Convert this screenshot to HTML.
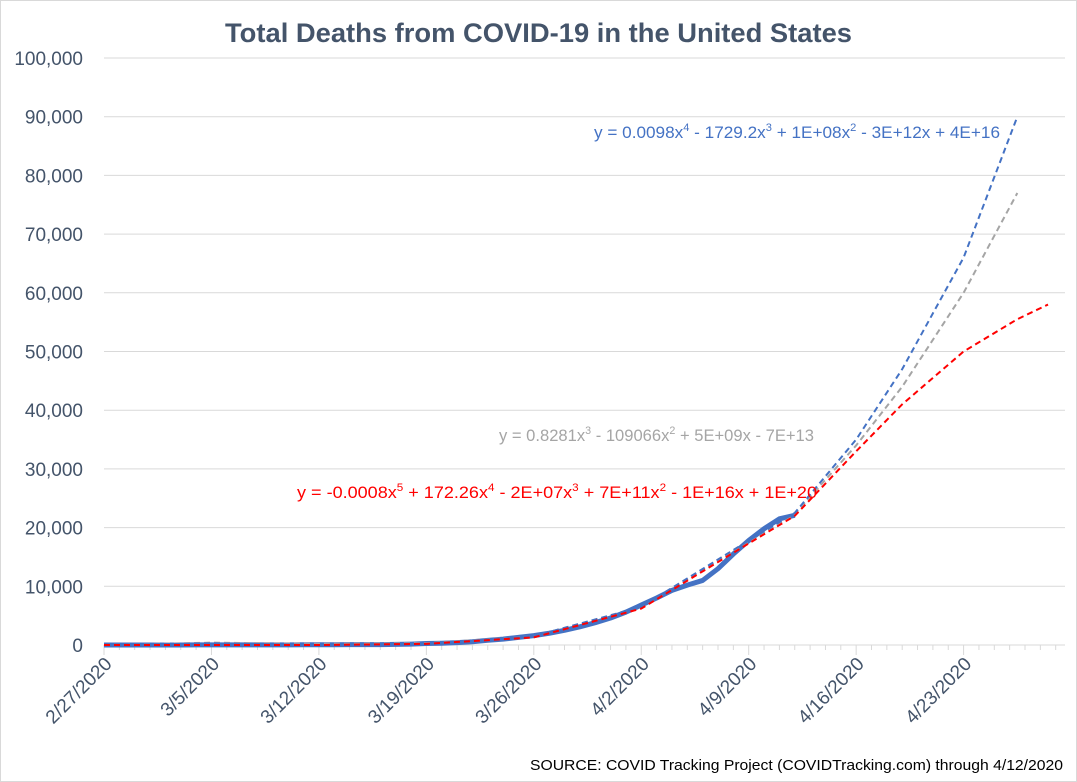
<!DOCTYPE html>
<html><head><meta charset="utf-8"><style>
body{margin:0;background:#fff;}
svg{display:block;font-family:"Liberation Sans",sans-serif;}
</style></head><body>
<svg id="c" width="1077" height="782">
<rect x="0.5" y="0.5" width="1076" height="781" fill="#fff" stroke="#d9d9d9"/>
<text x="225" y="42" font-size="27" font-weight="bold" fill="#44546a" textLength="627" lengthAdjust="spacingAndGlyphs">Total Deaths from COVID-19 in the United States</text>
<g id="grid"></g><g id="axes"></g><g id="series"></g>
<text x="594" y="138" font-size="17" fill="#4472c4" textLength="406" lengthAdjust="spacingAndGlyphs">y = 0.0098x<tspan dy="-7" font-size="11">4</tspan><tspan dy="7"> - 1729.2x</tspan><tspan dy="-7" font-size="11">3</tspan><tspan dy="7"> + 1E+08x</tspan><tspan dy="-7" font-size="11">2</tspan><tspan dy="7"> - 3E+12x + 4E+16</tspan></text>
<text x="499" y="441" font-size="17" fill="#a5a5a5" textLength="315" lengthAdjust="spacingAndGlyphs">y = 0.8281x<tspan dy="-7" font-size="11">3</tspan><tspan dy="7"> - 109066x</tspan><tspan dy="-7" font-size="11">2</tspan><tspan dy="7"> + 5E+09x - 7E+13</tspan></text>
<text x="297" y="498" font-size="17" fill="#ff0000" textLength="520" lengthAdjust="spacingAndGlyphs">y = -0.0008x<tspan dy="-7" font-size="11">5</tspan><tspan dy="7"> + 172.26x</tspan><tspan dy="-7" font-size="11">4</tspan><tspan dy="7"> - 2E+07x</tspan><tspan dy="-7" font-size="11">3</tspan><tspan dy="7"> + 7E+11x</tspan><tspan dy="-7" font-size="11">2</tspan><tspan dy="7"> - 1E+16x + 1E+20</tspan></text>
<text x="530" y="770" font-size="15" fill="#000" textLength="533" lengthAdjust="spacingAndGlyphs">SOURCE: COVID Tracking Project (COVIDTracking.com) through 4/12/2020</text>
</svg>
<script>
const yTicks=[0,10000,20000,30000,40000,50000,60000,70000,80000,90000,100000];
const xTickLabels=["2/27/2020","3/5/2020","3/12/2020","3/19/2020","3/26/2020","4/2/2020","4/9/2020","4/16/2020","4/23/2020"];
const deaths=[0,1,1,2,6,9,11,12,15,19,22,26,30,38,41,48,57,60,68,100,150,250,300,400,550,800,1000,1300,1600,2000,2500,3100,3800,4600,5600,6800,8000,9300,10200,11000,13000,15500,17800,19800,21500,22100];
const blueDays=[0,7,14,21,28,35,42,45,49,52,56,59.5];
const blueTrend=[0,300,0,200,1500,6500,17800,22500,35000,47000,66000,90000];
const grayDays=[0,7,14,21,28,35,42,45,49,52,56,59.5];
const grayTrend=[0,400,200,300,1500,6400,17600,22300,34000,44000,60000,77000];
const redDays=[0,7,14,21,28,35,42,45,49,52,56,59.5,61.5];
const redTrend=[0,0,0,200,1300,6200,17300,22000,33000,41000,50000,55500,58000];
const NS="http://www.w3.org/2000/svg";
const x0=104,dx=15.35,y0=645,yMax=100000,yTop=58;
const X=d=>x0+d*dx, Y=v=>y0-v/yMax*(y0-yTop);
function mk(t,a,p){const e=document.createElementNS(NS,t);for(const k in a)e.setAttribute(k,a[k]);p.appendChild(e);return e;}
const grid=document.getElementById('grid'),axes=document.getElementById('axes'),ser=document.getElementById('series');
yTicks.forEach(v=>{
 const l=mk('line',{x1:x0,x2:1065,y1:Y(v),y2:Y(v),stroke:'#d9d9d9'},grid);
 
 
 const t=mk('text',{x:83,y:Y(v)+7,'text-anchor':'end','font-size':19,fill:'#44546a'},axes);
 t.textContent=v.toLocaleString('en-US');
 
 
});
for(let d=0;d<=62;d++){const major=d%7==0;const l=mk('line',{x1:X(d),x2:X(d),y1:y0,y2:y0+(major?10:5),stroke:'#d9d9d9'},axes);
 
 }
xTickLabels.forEach((s,i)=>{const x=X(i*7)+9,y=y0+20;
 const t=mk('text',{x:x,y:y,'text-anchor':'end','font-size':19,fill:'#44546a',transform:`rotate(-45 ${x} ${y})`},axes);
 t.textContent=s;
 
 });
const bl=mk('line',{x1:x0,x2:1065,y1:y0,y2:y0,stroke:'#d9d9d9'},axes);


function pts(ds,vs){return ds.map((d,i)=>X(d)+','+Y(vs[i])).join(' ');}
const dl=mk('polyline',{points:pts(deaths.map((_,i)=>i),deaths),fill:'none',stroke:'#4472c4','stroke-width':5,'stroke-linejoin':'round'},ser);


const g=mk('polyline',{points:pts(grayDays,grayTrend),fill:'none',stroke:'#a5a5a5','stroke-width':2,'stroke-dasharray':'6,4'},ser);


const b=mk('polyline',{points:pts(blueDays,blueTrend),fill:'none',stroke:'#4472c4','stroke-width':2,'stroke-dasharray':'6,4'},ser);


const r=mk('polyline',{points:pts(redDays,redTrend),fill:'none',stroke:'#ff0000','stroke-width':2,'stroke-dasharray':'6,4'},ser);


</script>
</body></html>
